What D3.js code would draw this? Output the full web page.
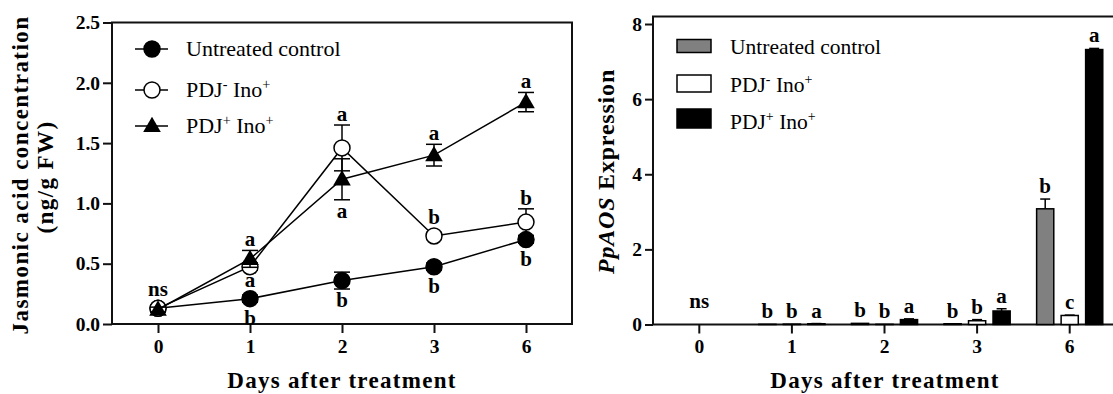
<!DOCTYPE html>
<html>
<head>
<meta charset="utf-8">
<script src="https://cdn.jsdelivr.net/npm/d3@7"></script>
<style>
  body { margin: 0; background: #fff; }
  svg { display: block; }
</style>
</head>
<body>
<svg id="chart" width="1113" height="394"></svg>
<script>
"use strict";

var days        = ["0", "1", "2", "3", "6"];
var seriesNames = ["Untreated control", "PDJ^- Ino^+", "PDJ^+ Ino^+"];

// jasmonic acid, ng/g FW (left panel)
var jaControl      = [0.13, 0.21, 0.36, 0.475, 0.70];
var jaControlErr   = [0.02, 0.03, 0.07, 0.03, 0.03];
var jaMinus        = [0.13, 0.475, 1.46, 0.73, 0.845];
var jaMinusErr     = [0.02, 0.03, 0.19, 0.03, 0.11];
var jaPlus         = [0.12, 0.54, 1.20, 1.40, 1.84];
var jaPlusErr      = [0.02, 0.07, 0.17, 0.09, 0.08];
var jaTicks        = [0, 0.5, 1.0, 1.5, 2.0, 2.5];

// significance letters, left panel
var jaControlAbove = ["", "a", "", "", ""];
var jaControlBelow = ["", "b", "b", "b", "b"];
var jaMinusAbove   = ["ns", "", "a", "b", "b"];
var jaPlusAbove    = ["", "a", "", "a", "a"];
var jaPlusBelow    = ["", "", "a", "", ""];

// PpAOS expression (right panel)
var aosControl     = [0, 0.005, 0.03, 0.02, 3.08];
var aosControlErr  = [0, 0, 0, 0, 0.26];
var aosMinus       = [0, 0.01, 0.005, 0.10, 0.24];
var aosMinusErr    = [0, 0, 0, 0.03, 0.01];
var aosPlus        = [0, 0.02, 0.13, 0.36, 7.32];
var aosPlusErr     = [0, 0.005, 0.02, 0.06, 0.03];
var aosTicks       = [0, 2, 4, 6, 8];

// significance letters, right panel
var aosGroupLetters   = ["ns", "", "", "", ""];
var aosControlLetters = ["", "b", "b", "b", "b"];
var aosMinusLetters   = ["", "b", "b", "b", "c"];
var aosPlusLetters    = ["", "a", "a", "a", "a"];

var serif = "'Liberation Serif', 'Times New Roman', serif";
var svg = d3.select("#chart").attr("font-family", serif);

// "^" puts the next character in superscript
var writeLabel = function(text, label, size) {
  var parts = label.split(/(\^.)/).filter(function(p) { return p !== ""; });
  var raised = false;
  parts.forEach(function(p) {
    var t = text.append("tspan");
    if (p[0] === "^") {
      t.attr("font-size", size * 0.65).attr("dy", -size * 0.38).text(p[1]);
      raised = true;
    } else {
      if (raised) { t.attr("dy", size * 0.38); raised = false; }
      t.text(p);
    }
  });
};

var styleAxis = function(g) {
  g.attr("font-family", serif).attr("font-size", 19.5).attr("font-weight", "bold");
  g.select(".domain").remove();
  g.selectAll("line").attr("stroke", "#111").attr("stroke-width", 2);
  g.selectAll("text").attr("fill", "#000");
};

var addLetter = function(x, y, s) {
  if (!s) return;
  svg.append("text")
    .attr("x", x)
    .attr("y", y)
    .attr("text-anchor", "middle")
    .attr("font-size", 21)
    .attr("font-weight", "bold")
    .text(s);
};

/* ---------- left panel: jasmonic acid ---------- */

var xJa = d3.scalePoint().domain(days).range([112, 572]).padding(0.5);
var yJa = d3.scaleLinear().domain([0, 2.5]).range([324, 22.5]);

svg.append("rect")
  .attr("x", 112).attr("y", yJa(2.5))
  .attr("width", 460).attr("height", yJa(0) - yJa(2.5))
  .attr("fill", "none").attr("stroke", "#111").attr("stroke-width", 2);

svg.append("g")
  .attr("transform", "translate(0," + yJa(0) + ")")
  .call(d3.axisBottom(xJa).tickSizeInner(9).tickSizeOuter(0).tickPadding(6))
  .call(styleAxis);

svg.append("g")
  .attr("transform", "translate(112,0)")
  .call(d3.axisLeft(yJa).tickValues(jaTicks).tickFormat(d3.format(".1f"))
    .tickSizeInner(9).tickSizeOuter(0).tickPadding(3))
  .call(styleAxis);

var jaSeries = [
  { values: jaControl, errs: jaControlErr, marker: "dot" },
  { values: jaMinus,   errs: jaMinusErr,   marker: "ring" },
  { values: jaPlus,    errs: jaPlusErr,    marker: "tri" }
];

var radius = 8;
var triangle = d3.symbol().type(d3.symbolTriangle).size(135);

var drawMarker = function(g, kind, x, y) {
  if (kind === "tri") {
    g.append("path").attr("d", triangle())
      .attr("transform", "translate(" + x + "," + (y + 1) + ")")
      .attr("fill", "#000");
  } else {
    g.append("circle").attr("cx", x).attr("cy", y).attr("r", radius)
      .attr("fill", kind === "dot" ? "#000" : "#fff")
      .attr("stroke", "#000").attr("stroke-width", 1.5);
  }
};

var line = d3.line()
  .x(function(d, i) { return xJa(days[i]); })
  .y(function(d) { return yJa(d); });

jaSeries.forEach(function(s) {
  var g = svg.append("g");

  g.append("path")
    .attr("d", line(s.values))
    .attr("fill", "none").attr("stroke", "#000").attr("stroke-width", 1.5);

  s.values.forEach(function(v, i) {
    var x = xJa(days[i]);
    var yHi = yJa(v + s.errs[i]);
    var yLo = yJa(v - s.errs[i]);
    g.append("line").attr("x1", x).attr("x2", x).attr("y1", yHi).attr("y2", yLo)
      .attr("stroke", "#000").attr("stroke-width", 1.5);
    [yHi, yLo].forEach(function(yc) {
      g.append("line").attr("x1", x - 8).attr("x2", x + 8).attr("y1", yc).attr("y2", yc)
        .attr("stroke", "#000").attr("stroke-width", 1.5);
    });
  });

  s.values.forEach(function(v, i) {
    drawMarker(g, s.marker, xJa(days[i]), yJa(v));
  });
});

var lettersAbove = function(values, errs, letters) {
  letters.forEach(function(s, i) {
    var top = Math.min(yJa(values[i] + errs[i]), yJa(values[i]) - radius);
    addLetter(xJa(days[i]), top - 4, s);
  });
};
var lettersBelow = function(values, errs, letters) {
  letters.forEach(function(s, i) {
    var bottom = Math.max(yJa(values[i] - errs[i]), yJa(values[i]) + radius);
    addLetter(xJa(days[i]), bottom + 18, s);
  });
};

lettersAbove(jaControl, jaControlErr, jaControlAbove);
lettersBelow(jaControl, jaControlErr, jaControlBelow);
lettersAbove(jaMinus, jaMinusErr, jaMinusAbove);
lettersAbove(jaPlus, jaPlusErr, jaPlusAbove);
lettersBelow(jaPlus, jaPlusErr, jaPlusBelow);

// legend (left)
var jaLegendY = [49, 90, 126];
jaSeries.forEach(function(s, i) {
  var g = svg.append("g");
  g.append("line").attr("x1", 135).attr("x2", 168)
    .attr("y1", jaLegendY[i]).attr("y2", jaLegendY[i])
    .attr("stroke", "#000").attr("stroke-width", 1.5);
  drawMarker(g, s.marker, 152, jaLegendY[i]);
  var t = g.append("text").attr("x", 186).attr("y", jaLegendY[i] + 7)
    .attr("font-size", 22);
  writeLabel(t, seriesNames[i], 22);
});

// titles (left)
svg.append("text")
  .attr("transform", "translate(28,175) rotate(-90)")
  .attr("text-anchor", "middle").attr("font-size", 23).attr("font-weight", "bold")
  .attr("letter-spacing", 1.45)
  .text("Jasmonic acid concentration");
svg.append("text")
  .attr("transform", "translate(53,177) rotate(-90)")
  .attr("text-anchor", "middle").attr("font-size", 23).attr("font-weight", "bold")
  .attr("letter-spacing", 1.4)
  .text("(ng/g FW)");
svg.append("text")
  .attr("x", 342).attr("y", 388)
  .attr("text-anchor", "middle").attr("font-size", 23).attr("font-weight", "bold")
  .attr("letter-spacing", 1.3)
  .text("Days after treatment");

/* ---------- right panel: PpAOS expression ---------- */

var xAos = d3.scaleBand().domain(days).range([653, 1116]);
var xSeries = d3.scaleBand().domain([0, 1, 2])
  .range([0, xAos.bandwidth()]).paddingInner(0.3).paddingOuter(0.54);
var yAos = d3.scaleLinear().domain([0, 8.2]).range([324.5, 16.5]);

svg.append("rect")
  .attr("x", 653).attr("y", yAos(8.2))
  .attr("width", 1116 - 653).attr("height", yAos(0) - yAos(8.2))
  .attr("fill", "none").attr("stroke", "#111").attr("stroke-width", 2);

svg.append("g")
  .attr("transform", "translate(0," + yAos(0) + ")")
  .call(d3.axisBottom(xAos).tickSizeInner(9).tickSizeOuter(0).tickPadding(6))
  .call(styleAxis);

svg.append("g")
  .attr("transform", "translate(653,0)")
  .call(d3.axisLeft(yAos).tickValues(aosTicks).tickFormat(d3.format("d"))
    .tickSizeInner(8).tickSizeOuter(0).tickPadding(3))
  .call(styleAxis);

var aosSeries = [
  { values: aosControl, errs: aosControlErr, fill: "#808080", letters: aosControlLetters },
  { values: aosMinus,   errs: aosMinusErr,   fill: "#ffffff", letters: aosMinusLetters },
  { values: aosPlus,    errs: aosPlusErr,    fill: "#000000", letters: aosPlusLetters }
];

aosSeries.forEach(function(s, k) {
  var g = svg.append("g");
  s.values.forEach(function(v, i) {
    var x0 = xAos(days[i]) + xSeries(k);
    var xc = x0 + xSeries.bandwidth() / 2;
    if (s.errs[i] > 0) {
      var yTop = yAos(v + s.errs[i]);
      g.append("line").attr("x1", xc).attr("x2", xc).attr("y1", yAos(v)).attr("y2", yTop)
        .attr("stroke", "#000").attr("stroke-width", 1.5);
      g.append("line").attr("x1", xc - 5).attr("x2", xc + 5).attr("y1", yTop).attr("y2", yTop)
        .attr("stroke", "#000").attr("stroke-width", 1.5);
    }
    if (v > 0) {
      g.append("rect")
        .attr("x", x0).attr("y", yAos(v))
        .attr("width", xSeries.bandwidth()).attr("height", yAos(0) - yAos(v))
        .attr("fill", s.fill).attr("stroke", "#000").attr("stroke-width", 1.5);
    }
    addLetter(xc, yAos(v + s.errs[i]) - 6, s.letters[i]);
  });
});

aosGroupLetters.forEach(function(s, i) {
  addLetter(xAos(days[i]) + xAos.bandwidth() / 2, yAos(0) - 17, s);
});

// legend (right)
var aosLegendY = [39.5, 75, 109];
var aosLegendH = [13, 17, 19];
var aosLegendText = [47, 85, 122];
aosSeries.forEach(function(s, i) {
  svg.append("rect")
    .attr("x", 677).attr("y", aosLegendY[i])
    .attr("width", 34).attr("height", aosLegendH[i])
    .attr("fill", s.fill).attr("stroke", "#000").attr("stroke-width", 1.5);
  var t = svg.append("text").attr("x", 730).attr("y", aosLegendText[i] + 7)
    .attr("font-size", 21.5);
  writeLabel(t, seriesNames[i], 21.5);
});

// titles (right)
var yTitle = svg.append("text")
  .attr("transform", "translate(614,171.5) rotate(-90)")
  .attr("text-anchor", "middle").attr("font-size", 24).attr("font-weight", "bold")
  .attr("letter-spacing", 0.8);
yTitle.append("tspan").attr("font-style", "italic").text("PpAOS");
yTitle.append("tspan").text(" Expression");

svg.append("text")
  .attr("x", 885).attr("y", 388)
  .attr("text-anchor", "middle").attr("font-size", 23).attr("font-weight", "bold")
  .attr("letter-spacing", 1.3)
  .text("Days after treatment");
</script>
</body>
</html>
